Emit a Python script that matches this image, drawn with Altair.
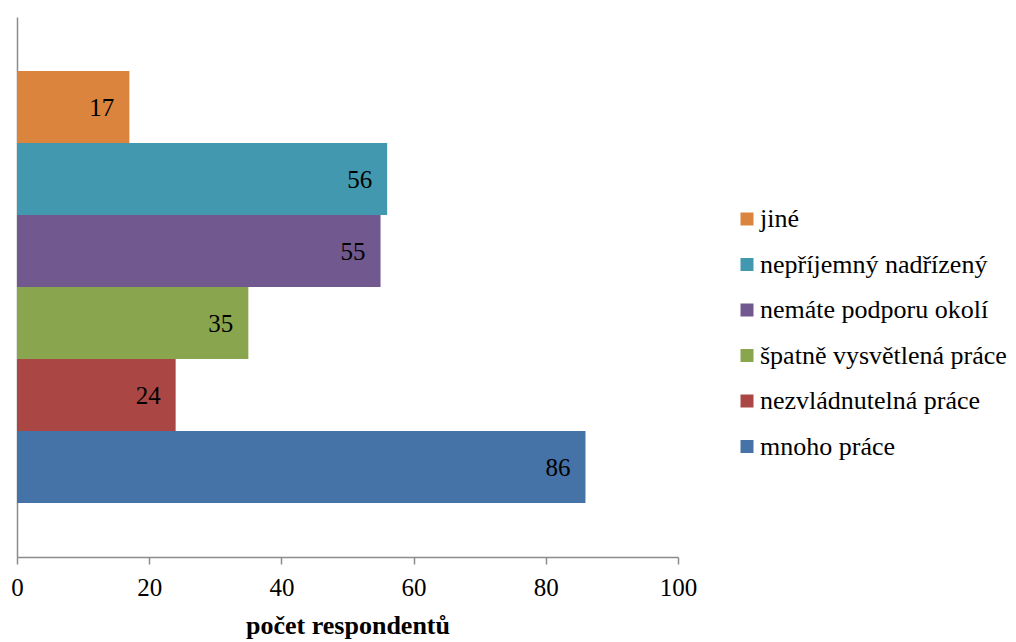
import altair as alt
import pandas as pd

# Reasons and respondent counts (top to bottom)
reasons = [
    "jiné",
    "nepříjemný nadřízený",
    "nemáte podporu okolí",
    "špatně vysvětlená práce",
    "nezvládnutelná práce",
    "mnoho práce",
]
counts = [17, 56, 55, 35, 24, 86]
colors = ["#DB843D", "#4198AF", "#71588F", "#89A54E", "#AA4643", "#4572A7"]
x_ticks = [0, 20, 40, 60, 80, 100]

df = pd.DataFrame({"duvod": reasons, "pocet": counts})

FONT = "'Liberation Serif', 'Times New Roman', serif"
AXIS_GRAY = "#8c8c8c"

y_enc = alt.Y(
    "duvod:N",
    sort=reasons,
    scale=alt.Scale(paddingInner=0, paddingOuter=0.75),
    axis=alt.Axis(labels=False, ticks=False, title=None, domainColor=AXIS_GRAY,
                  domainWidth=1.5, grid=False),
)

x_enc = alt.X(
    "pocet:Q",
    scale=alt.Scale(domain=[0, 100], nice=False),
    axis=alt.Axis(
        values=x_ticks,
        title="počet respondentů",
        titleFont=FONT,
        titleFontSize=26,
        titleFontWeight="bold",
        titleColor="black",
        titlePadding=12,
        labelFont=FONT,
        labelFontSize=25,
        labelColor="black",
        labelPadding=11,
        labelFlush=False,
        labelOverlap=False,
        tickColor=AXIS_GRAY,
        tickSize=7,
        tickWidth=1.5,
        domainColor=AXIS_GRAY,
        domainWidth=1.5,
        grid=False,
    ),
)

bars = alt.Chart(df).mark_bar(size=72).encode(
    x=x_enc,
    y=y_enc,
    color=alt.Color(
        "duvod:N",
        sort=reasons,
        scale=alt.Scale(domain=reasons, range=colors),
        legend=alt.Legend(
            title=None,
            orient="none",
            legendX=717,
            legendY=189,
            symbolType="square",
            symbolSize=169,
            symbolStrokeWidth=0,
            labelFont=FONT,
            labelFontSize=26,
            labelColor="black",
            labelOffset=0,
            rowPadding=19.5,
            labelLimit=400,
        ),
    ),
)

labels = alt.Chart(df).mark_text(
    align="right", baseline="middle", dx=-15, dy=1, font=FONT, fontSize=25, color="black"
).encode(
    x=alt.X("pocet:Q"),
    y=alt.Y("duvod:N", sort=reasons),
    text=alt.Text("pocet:Q"),
)

chart = (
    alt.layer(bars, labels)
    .properties(
        width=661,
        height=540,
        autosize=alt.AutoSizeParams(type="none"),
        padding={"left": 17, "top": 17, "right": 338, "bottom": 85},
    )
    .configure(background="white")
    .configure_view(strokeWidth=0, stroke="transparent")
)

chart.save("out.html", embed_options={"renderer": "svg", "actions": False})
